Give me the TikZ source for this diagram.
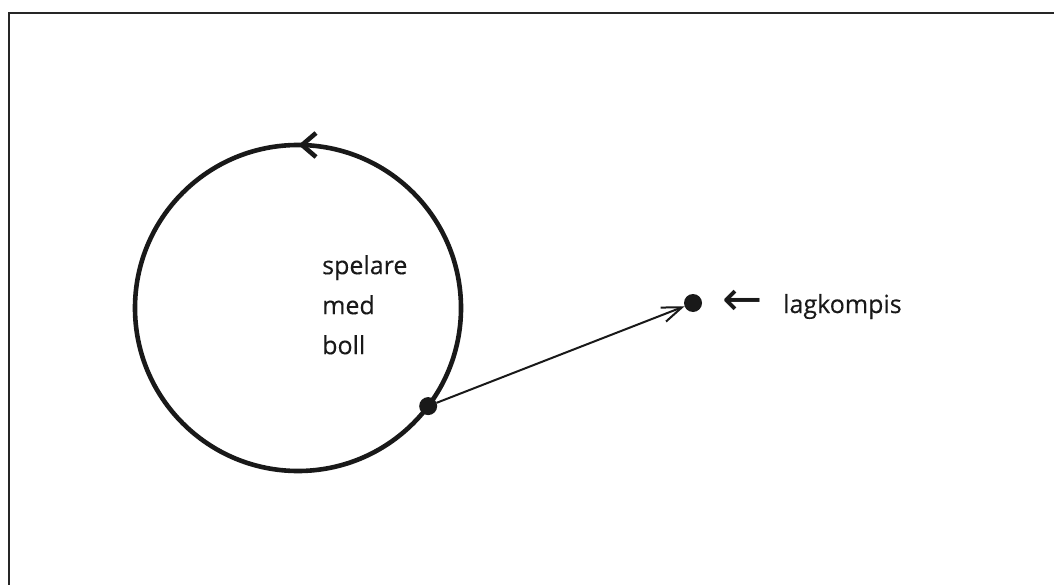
\documentclass[tikz,border=0pt]{standalone}
\usepackage{fontspec}
\setmainfont{Open Sans}[FakeBold=0.3]
\newfontfamily\symfont{DejaVu Sans}
\usetikzlibrary{arrows.meta}
\begin{document}
\begin{tikzpicture}[x=1pt,y=-1pt,
  frame/.style={draw=black!85, line width=2pt},
  ring/.style={circle, draw=black!90, line width=4.6pt, inner sep=0pt, outer sep=0pt, minimum size=326pt},
  chev/.style={draw=black!90, line width=4.6pt, line join=miter},
  dot/.style={circle, fill=black!90, inner sep=0pt, outer sep=0pt, minimum size=18pt},
  pass/.style={draw=black!90, line width=2pt, -{Straight Barb[length=20pt, width=15pt, line width=2pt]}},
  lbl/.style={font=\fontsize{25}{40}\selectfont, text=black!90, inner sep=0pt},
  symlbl/.style={font=\symfont\fontsize{48}{50}\selectfont, text=black!90, inner sep=0pt},
]
\useasboundingbox (0,0) rectangle (1054,585);
\clip (0,0) rectangle (1054,585);
\draw[frame] (9,13) rectangle (1080,610);
\node[ring] (ring) at (298,308) {};
\coordinate (tip) at ([xshift=4pt]ring.north);
\draw[chev] (tip) ++(14,-12) -- (tip) -- ++(14,12);
\node[dot] (src) at (ring.-37.5) {};
\node[dot] (dst) at (693,303) {};
\draw[pass] (src) -- (dst);
\node[lbl, align=left, anchor=north west] (player) at (322,255) {spelare\\med\\boll};
\node[symlbl] (arr) at (743,303) {←};
\node[lbl, anchor=base west] (mate) at (783,313) {lagkompis};
\end{tikzpicture}
\end{document}
